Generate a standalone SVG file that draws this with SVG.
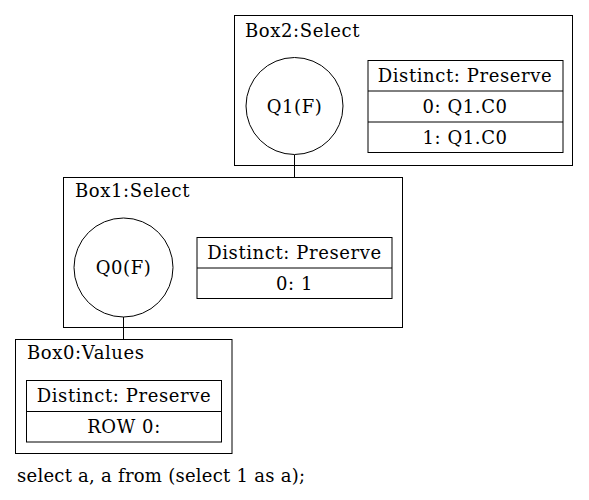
<svg xmlns="http://www.w3.org/2000/svg" width="589" height="500" viewBox="0 0 589 500">
<style>
text{font-family:"DejaVu Serif",serif;font-size:18px;letter-spacing:0.6px;fill:#000}
.c{text-anchor:middle}
.b{fill:none;stroke:#000;stroke-width:1}
</style>
<rect width="589" height="500" fill="#fff"/>
<g id="connectors">
<line class="b" x1="294.5" y1="155" x2="294.5" y2="178"/>
<line class="b" x1="123.5" y1="317" x2="123.5" y2="339"/>
</g>
<g id="box2">
<rect class="b" x="234.5" y="15.5" width="338" height="150"/>
<text x="245" y="36.5">Box2:Select</text>
</g>
<g id="Q1">
<circle class="b" cx="294.5" cy="106" r="48.5"/>
<text class="c" x="294.5" y="112.5">Q1(F)</text>
</g>
<g id="box2table">
<rect class="b" x="368" y="60.5" width="195" height="92"/>
<line class="b" x1="368" y1="91" x2="563" y2="91"/>
<line class="b" x1="368" y1="122" x2="563" y2="122"/>
<text class="c" x="465" y="81.5">Distinct: Preserve</text>
<text class="c" x="465" y="112.5">0: Q1.C0</text>
<text class="c" x="465" y="143.5">1: Q1.C0</text>
</g>
<g id="box1">
<rect class="b" x="63.5" y="177.5" width="339" height="150"/>
<text x="75" y="196.5">Box1:Select</text>
</g>
<g id="Q0">
<circle class="b" cx="123.5" cy="267.5" r="49.5"/>
<text class="c" x="123.5" y="273.5">Q0(F)</text>
</g>
<g id="box1table">
<rect class="b" x="197" y="237.5" width="195" height="61"/>
<line class="b" x1="197" y1="268" x2="392" y2="268"/>
<text class="c" x="294.5" y="258.5">Distinct: Preserve</text>
<text class="c" x="294.5" y="289.5">0: 1</text>
</g>
<g id="box0">
<rect class="b" x="15.5" y="339.5" width="216.5" height="114"/>
<text x="27" y="359">Box0:Values</text>
</g>
<g id="box0table">
<rect class="b" x="26.5" y="380.5" width="195" height="61.5"/>
<line class="b" x1="26.5" y1="411.5" x2="221.5" y2="411.5"/>
<text class="c" x="124" y="402">Distinct: Preserve</text>
<text class="c" x="124" y="433">ROW 0:</text>
</g>
<text x="17" y="482" style="letter-spacing:0" textLength="288" lengthAdjust="spacing">select a, a from (select 1 as a);</text>
</svg>
